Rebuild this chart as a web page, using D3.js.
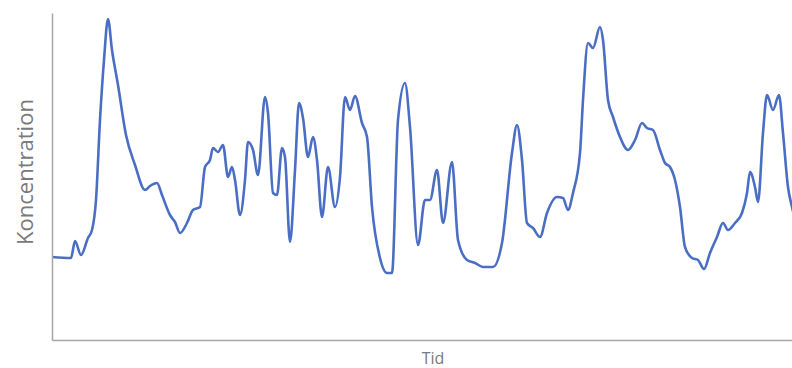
<!DOCTYPE html>
<html><head><meta charset="utf-8">
<script src="https://cdn.jsdelivr.net/npm/d3@7"></script>
<style>html,body{margin:0;padding:0;background:#fff;}svg{display:block;}</style>
</head><body>
<svg id="c" width="792" height="368"></svg>
<script>
// time (arbitrary units) and concentration (arbitrary units)
const time = [0,19,23,29,36,40,44,48,52,56,60,66,74,83,93,98,105,110,118,123,128,135,141,148,153,158,161,166,171,176,180,183,188,193,196,201,206,213,216,221,225,230,233,238,243,247,251,256,261,265,270,276,283,288,293,298,303,310,315,320,328,335,340,346,353,358,366,373,378,385,391,400,406,415,423,431,441,450,460,465,470,475,481,488,495,505,511,516,521,528,531,536,541,548,551,556,561,568,576,583,590,595,601,608,613,618,623,628,633,640,646,652,658,665,671,676,683,690,695,698,703,706,711,715,721,727,731,736,740,748];
const conc = [83,82,99,85,102,110,140,220,280,321,290,255,205,175,150,154,157,145,125,118,107,117,130,133,173,180,192,188,195,163,173,160,125,160,198,190,165,243,227,147,145,192,183,98,170,237,222,183,203,180,123,173,133,163,243,230,244,217,203,133,82,67,67,220,257,213,95,140,140,170,117,178,100,80,77,73,73,97,187,215,180,117,112,103,127,143,142,130,147,187,240,297,292,313,300,240,223,203,190,200,217,212,210,190,177,173,160,133,93,82,80,71,87,103,117,110,117,127,147,168,153,138,207,245,230,245,207,153,133,105];
const xTitle = "Tid";
const yTitle = "Koncentration";

const W = 792, H = 368;
const svg = d3.select("#c");
const x = d3.scaleLinear().domain([0, 740]).range([52, 792]);
const y = d3.scaleLinear().domain([0, 327]).range([340, 13]);

svg.append("defs").append("clipPath").attr("id","clip")
  .append("rect").attr("x",52).attr("y",0).attr("width",W-52).attr("height",340);

const line = d3.line().x((d,i)=>x(time[i])).y((d,i)=>y(conc[i])).curve(d3.curveMonotoneX);
svg.append("path").datum(conc).attr("clip-path","url(#clip)")
  .attr("d", line).attr("fill","none").attr("stroke","#4a6ec4").attr("stroke-width",2.6)
  .attr("stroke-linejoin","round");

// axes (no ticks)
const xAxis = d3.axisBottom(x).tickValues([]).tickSizeOuter(0);
const yAxis = d3.axisLeft(y).tickValues([]).tickSizeOuter(0);
svg.append("g").attr("transform","translate(0,340)").call(xAxis)
  .select(".domain").attr("stroke","#a6a6a6").attr("stroke-width",1.5);
svg.append("g").attr("transform","translate(52,0)").call(yAxis)
  .select(".domain").attr("stroke","#a6a6a6").attr("stroke-width",1.5);

svg.append("text").attr("x",433).attr("y",363.5).attr("text-anchor","middle")
  .attr("font-family","Open Sans, sans-serif").attr("font-size",16).attr("fill","#7a7a7a")
  .text(xTitle);
svg.append("text").attr("transform","translate(33,172) rotate(-90)").attr("text-anchor","middle")
  .attr("font-family","Open Sans, sans-serif").attr("font-size",22).attr("fill","#7a7a7a")
  .text(yTitle);
</script>
</body></html>
